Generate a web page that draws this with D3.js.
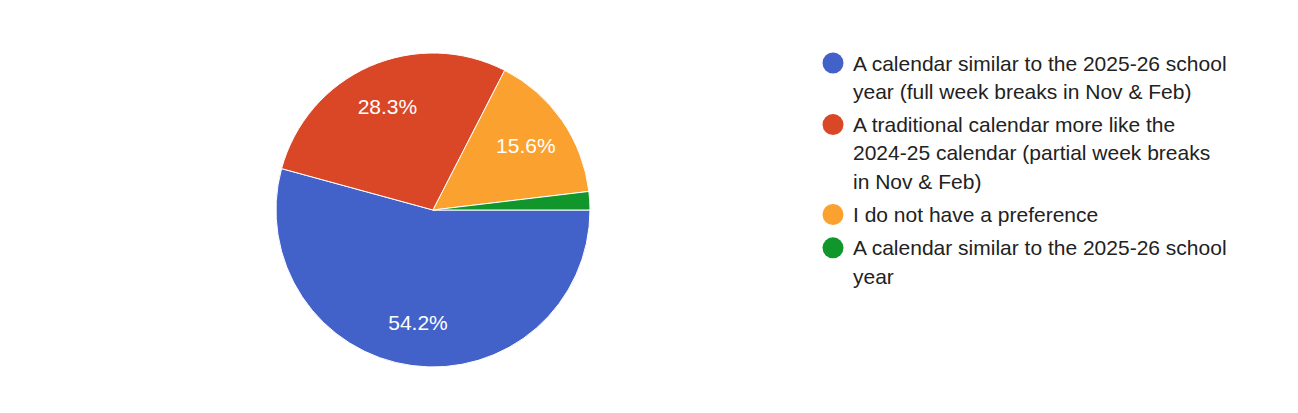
<!DOCTYPE html>
<html>
<head>
<meta charset="utf-8">
<script src="https://cdn.jsdelivr.net/npm/d3@7"></script>
<style>
  body { margin: 0; background: #fff; }
  text { font-family: "Liberation Sans", Arial, sans-serif; }
</style>
</head>
<body>
<div id="main"></div>
<script>
const W = 1298, H = 413;

// survey answers (counts read back from the percentages)
const categories = [
    "A calendar similar to the 2025-26 school year (full week breaks in Nov & Feb)",
    "A traditional calendar more like the 2024-25 calendar (partial week breaks in Nov & Feb)",
    "I do not have a preference",
    "A calendar similar to the 2025-26 school year"
];
const counts = [115, 60, 33, 4];
const colors = ["#4262c9", "#da4726", "#fba12f", "#10962a"];

const ctx = {
    cx: 433,
    cy: 210,
    r: 157,
    labelR: 0.72,
    legendX: 833,
    legendY: 63,
    lineH: 28.3,
    itemGap: 5,
    wrapW: 378,
    fontSize: 21,
};

const data = categories.map((c, i) => ({label: c, value: counts[i], color: colors[i]}));
const total = d3.sum(counts);

let svgEl = d3.select("#main").append("svg")
    .attr("width", W)
    .attr("height", H);

// pie, first slice starting at 3 o'clock going clockwise
let pie = d3.pie()
    .sort(null)
    .value(d => d.value)
    .startAngle(Math.PI / 2)
    .endAngle(Math.PI / 2 + 2 * Math.PI);

let arc = d3.arc().innerRadius(0).outerRadius(ctx.r);
let labelArc = d3.arc().innerRadius(ctx.r * ctx.labelR).outerRadius(ctx.r * ctx.labelR);

let pieG = svgEl.append("g")
    .attr("transform", `translate(${ctx.cx},${ctx.cy})`);

pieG.selectAll("path.slice")
    .data(pie(data))
    .enter()
    .append("path")
    .attr("class", "slice")
    .attr("d", arc)
    .style("fill", d => d.data.color)
    .style("stroke", "#fff")
    .style("stroke-width", 1);

pieG.selectAll("text.pct")
    .data(pie(data).filter(d => d.value / total > 0.05))
    .enter()
    .append("text")
    .attr("class", "pct")
    .attr("transform", d => `translate(${labelArc.centroid(d)})`)
    .attr("text-anchor", "middle")
    .attr("dy", "0.36em")
    .style("font-size", ctx.fontSize + "px")
    .style("fill", "#fff")
    .text(d => (100 * d.value / total).toFixed(1) + "%");

// legend with word wrapping
let legend = svgEl.append("g").attr("id", "legend");
let y = ctx.legendY;
data.forEach(function(d) {
    legend.append("circle")
        .attr("cx", ctx.legendX)
        .attr("cy", y)
        .attr("r", 10.5)
        .style("fill", d.color);

    let txt = legend.append("text")
        .attr("x", ctx.legendX + 20)
        .style("font-size", ctx.fontSize + "px")
        .style("fill", "#222");

    let words = d.label.split(" ");
    let lines = [];
    let cur = "";
    let probe = txt.append("tspan");
    words.forEach(function(w) {
        let test = cur ? cur + " " + w : w;
        probe.text(test);
        if (probe.node().getComputedTextLength() > ctx.wrapW && cur) {
            lines.push(cur);
            cur = w;
        } else {
            cur = test;
        }
    });
    lines.push(cur);
    probe.remove();

    lines.forEach(function(l, i) {
        txt.append("tspan")
            .attr("x", ctx.legendX + 20)
            .attr("y", y + i * ctx.lineH)
            .attr("dy", "0.36em")
            .text(l);
    });
    y += lines.length * ctx.lineH + ctx.itemGap;
});
</script>
</body>
</html>
